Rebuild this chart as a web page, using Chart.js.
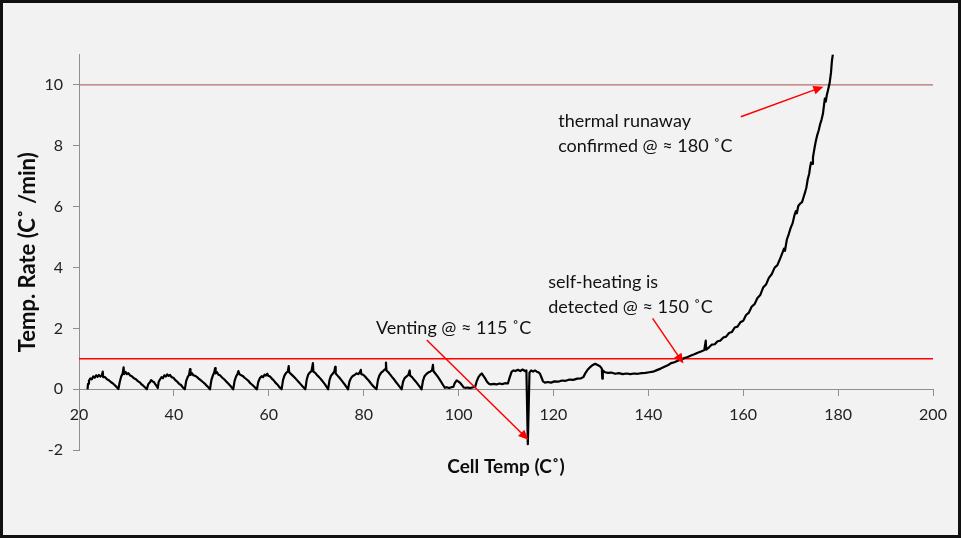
<!DOCTYPE html>
<html>
<head>
<meta charset="utf-8">
<script src="https://cdn.jsdelivr.net/npm/chart.js@4.4.0/dist/chart.umd.min.js"></script>
<style>
  html, body { margin: 0; padding: 0; background: #f2f2f2; }
  #frame { width: 961px; height: 538px; box-sizing: border-box; border: 3px solid #111; background: #f2f2f2; }
  canvas { display: block; }
</style>
</head>
<body>
<div id="frame"><canvas id="chart1" width="955" height="532"></canvas></div>
<script>
// cell temperature (C) and temperature rate (C/min)
// charge/discharge cycling part
var cyclingTemp = [
    21.8, 21.9, 22.1, 22.4, 22.7, 23.0, 23.3, 23.6, 23.9, 24.2, 24.5, 24.8, 25.0, 25.1, 25.5, 25.9, 26.3, 26.7, 27.1, 27.5, 27.9, 28.3,
    28.6, 28.9, 29.2, 29.4, 29.5, 29.8, 30.1, 30.4, 30.8, 31.2, 31.6, 32.0, 32.4, 32.8, 33.2, 33.6, 34.0, 34.3,
    34.6, 34.9, 35.2, 35.5, 35.8, 36.1, 36.4, 36.6,
    36.8, 37.1, 37.4, 37.7, 38.0, 38.3, 38.6, 38.9, 39.2, 39.5, 39.9, 40.3, 40.7, 41.1, 41.5, 41.9, 42.3,
    42.6, 42.9, 43.2, 43.4, 43.5, 43.8, 44.1, 44.5, 44.9, 45.3, 45.7, 46.1, 46.5, 46.9, 47.3, 47.6,
    47.9, 48.2, 48.5, 48.7, 48.8, 49.1, 49.4, 49.8, 50.2, 50.6, 51.0, 51.4, 51.8, 52.2, 52.5,
    52.8, 53.1, 53.4, 53.6, 53.8, 54.1, 54.5, 54.9, 55.3, 55.7, 56.1, 56.5, 56.9, 57.2, 57.5,
    57.8, 58.1, 58.5, 58.8, 59.1, 59.4, 59.7, 59.9, 60.2, 60.6, 61.0, 61.4, 61.8, 62.2, 62.7,
    63.0, 63.3, 63.7, 64.0, 64.2, 64.3, 64.7, 65.1, 65.5, 65.9, 66.3, 66.7, 67.1, 67.4, 67.7,
    68.0, 68.3, 68.7, 69.0, 69.3, 69.4, 69.8, 70.2, 70.6, 71.0, 71.4, 71.8, 72.2, 72.5,
    72.8, 73.1, 73.5, 73.8, 74.0, 74.1, 74.5, 74.9, 75.3, 75.7, 76.1, 76.4, 76.7,
    77.0, 77.3, 77.7, 78.1, 78.5, 78.9, 79.2, 79.4, 79.5, 79.9, 80.3, 80.7, 81.1, 81.5, 81.9, 82.3, 82.7,
    83.0, 83.3, 83.7, 84.1, 84.5, 84.7, 84.8, 85.2, 85.6, 86.0, 86.4, 86.8, 87.2, 87.6, 88.0,
    88.3, 88.6, 89.0, 89.4, 89.7, 89.8, 90.2, 90.6, 91.0, 91.4, 91.8, 92.2,
    92.5, 92.8, 93.2, 93.6, 94.0, 94.4, 94.6, 94.7, 95.1, 95.5, 95.9, 96.3, 96.7, 97.1,
    97.5, 98.0, 98.5, 98.9, 99.2, 99.6, 100.0, 100.4, 100.8, 101.1, 101.4, 101.9, 102.4, 102.9, 103.5,
    103.8, 104.2, 104.6, 104.9, 105.2, 105.6, 106.0, 106.4, 106.8, 107.4, 108.0, 108.6, 109.2, 109.8, 110.4
];
var cyclingRate = [
    0.00, 0.18, 0.28, 0.36, 0.33, 0.42, 0.38, 0.46, 0.41, 0.47, 0.42, 0.45, 0.58, 0.40, 0.40, 0.33, 0.30, 0.24, 0.20, 0.14, 0.08, 0.01,
    0.25, 0.42, 0.52, 0.72, 0.50, 0.57, 0.50, 0.53, 0.45, 0.42, 0.36, 0.33, 0.27, 0.23, 0.16, 0.11, 0.05, 0.00,
    0.17, 0.22, 0.30, 0.26, 0.24, 0.16, 0.10, 0.04,
    0.25, 0.33, 0.40, 0.37, 0.46, 0.42, 0.49, 0.44, 0.47, 0.40, 0.38, 0.30, 0.25, 0.18, 0.14, 0.06, 0.00,
    0.28, 0.40, 0.48, 0.66, 0.47, 0.53, 0.46, 0.44, 0.40, 0.34, 0.29, 0.24, 0.19, 0.12, 0.06, 0.00,
    0.30, 0.45, 0.55, 0.70, 0.52, 0.56, 0.48, 0.45, 0.38, 0.33, 0.26, 0.20, 0.13, 0.06, 0.00,
    0.28, 0.42, 0.50, 0.60, 0.50, 0.47, 0.44, 0.38, 0.33, 0.28, 0.20, 0.15, 0.09, 0.04, 0.00,
    0.25, 0.36, 0.43, 0.40, 0.48, 0.45, 0.51, 0.44, 0.43, 0.36, 0.30, 0.22, 0.16, 0.08, 0.00,
    0.30, 0.45, 0.55, 0.58, 0.76, 0.56, 0.50, 0.44, 0.38, 0.31, 0.24, 0.17, 0.10, 0.05, 0.00,
    0.32, 0.48, 0.56, 0.60, 0.86, 0.58, 0.54, 0.46, 0.40, 0.33, 0.25, 0.17, 0.08, 0.00,
    0.30, 0.44, 0.52, 0.58, 0.74, 0.52, 0.45, 0.38, 0.30, 0.22, 0.14, 0.07, 0.00,
    0.25, 0.36, 0.44, 0.47, 0.52, 0.50, 0.56, 0.64, 0.50, 0.48, 0.42, 0.35, 0.28, 0.20, 0.12, 0.06, 0.00,
    0.30, 0.45, 0.55, 0.60, 0.66, 0.88, 0.62, 0.56, 0.48, 0.40, 0.33, 0.24, 0.16, 0.08, 0.00,
    0.25, 0.36, 0.42, 0.47, 0.62, 0.45, 0.40, 0.32, 0.25, 0.17, 0.09, 0.00,
    0.28, 0.42, 0.50, 0.55, 0.58, 0.62, 0.80, 0.60, 0.52, 0.44, 0.35, 0.25, 0.15, 0.05,
    0.07, 0.04, 0.07, 0.08, 0.20, 0.29, 0.25, 0.20, 0.12, 0.06, 0.05, 0.06, 0.04, 0.06, 0.08,
    0.25, 0.40, 0.48, 0.52, 0.45, 0.36, 0.25, 0.18, 0.16, 0.18, 0.16, 0.19, 0.17, 0.20, 0.19
];

// venting region
var ventTemp = [
    110.8, 111.2, 111.6, 112.0, 112.5, 113.0, 113.5, 114.0, 114.3, 114.6, 114.95, 115.3, 115.7, 116.1, 116.5, 116.9,
    117.2, 117.5, 117.8, 118.2, 118.8, 119.5, 120.2, 121.0, 121.8, 122.6, 123.4, 124.2, 125.0, 125.8, 126.3,
    126.8, 127.3, 127.8, 128.3, 128.8, 129.3, 129.8, 130.2, 130.3, 130.4, 130.9
];
var ventRate = [
    0.40, 0.58, 0.62, 0.60, 0.64, 0.60, 0.65, 0.60, 0.62, -1.80, 0.55, 0.62, 0.58, 0.62, 0.58, 0.55,
    0.50, 0.38, 0.26, 0.22, 0.24, 0.22, 0.26, 0.25, 0.29, 0.28, 0.32, 0.31, 0.35, 0.36, 0.40,
    0.55, 0.66, 0.74, 0.80, 0.84, 0.80, 0.76, 0.68, 0.35, 0.62, 0.56
];

// self-heating and runaway
var runawayTemp = [
    131.5, 132.2, 133.0, 133.8, 134.6, 135.4, 136.2, 137.0, 137.8, 138.6, 139.4, 140.2, 141.0, 141.8, 142.6,
    143.4, 144.2, 144.8, 145.5, 146.2, 146.9, 147.6, 148.3, 149.0, 149.7, 150.4, 151.1, 151.8, 152.1, 152.2,
    152.8, 153.4, 154.0, 154.6, 155.2, 155.8, 156.4, 157.0, 157.6, 158.2, 158.8, 159.4, 160.0, 160.6, 161.2,
    161.8, 162.4, 163.0, 163.6, 164.2, 164.8, 165.4, 166.0, 166.6, 167.2, 167.8,
    168.3, 168.6, 168.8, 169.2, 169.6, 170.0, 170.4, 170.8, 171.1, 171.3, 171.6, 172.0, 172.4, 172.7, 173.0,
    173.3, 173.6, 173.9, 174.1, 174.3, 174.5, 174.7, 175.0, 175.3, 175.6, 175.9, 176.2, 176.5, 176.8, 177.0,
    177.2, 177.4, 177.6, 177.9, 178.2, 178.5, 178.7, 178.9
];
var runawayRate = [
    0.54, 0.55, 0.51, 0.53, 0.50, 0.52, 0.50, 0.52, 0.51, 0.53, 0.54, 0.56, 0.58, 0.63, 0.68,
    0.74, 0.80, 0.86, 0.89, 0.94, 0.97, 1.03, 1.06, 1.11, 1.15, 1.20, 1.24, 1.29, 1.60, 1.30,
    1.38, 1.47, 1.48, 1.58, 1.60, 1.70, 1.73, 1.85, 1.88, 2.03, 2.06, 2.20, 2.25, 2.44, 2.52,
    2.72, 2.80, 3.00, 3.10, 3.34, 3.44, 3.66, 3.78, 3.99, 4.08, 4.30,
    4.50, 4.62, 4.55, 4.92, 5.10, 5.30, 5.45, 5.72, 5.85, 5.78, 6.02, 6.10, 6.15, 6.30, 6.45,
    6.62, 6.90, 7.08, 7.30, 7.45, 7.40, 7.62, 7.90, 8.15, 8.35, 8.50, 8.70, 8.85, 9.05, 9.30,
    9.55, 9.45, 9.65, 9.85, 10.05, 10.40, 10.80, 11.00
];

// threshold lines
var thresholdLevels = [10, 1];
var thresholdColors = ["#b86d6d", "#ff0000"];

var xTicks = [20, 40, 60, 80, 100, 120, 140, 160, 180, 200];
var yTicks = [-2, 0, 2, 4, 6, 8, 10];

var cellTemp = cyclingTemp.concat(ventTemp, runawayTemp);
var tempRate = cyclingRate.concat(ventRate, runawayRate);
if (cellTemp.length !== tempRate.length) {
    throw new Error("length mismatch " + cellTemp.length + " / " + tempRate.length);
}

// notes: text lines with left x and line y in data units
var notes = [
    {lines: ["thermal runaway", "confirmed @ \u2248 180 \u02daC"], x: 121.0, y: [8.79, 7.97]},
    {lines: ["self-heating is", "detected @ \u2248 150 \u02daC"], x: 118.9, y: [3.53, 2.71]},
    {lines: ["Venting @ \u2248 115 \u02daC"], x: 82.6, y: [2.0]}
];
var arrows = [
    {from: [159.5, 8.95], to: [176.9, 9.94]},
    {from: [140.9, 2.33], to: [147.4, 0.85]},
    {from: [93.3, 1.62], to: [114.7, -1.66]}
];

var FONT = "Lato, 'Liberation Sans', sans-serif";

function drawArrow(ctx, x1, y1, x2, y2) {
    var ang = Math.atan2(y2 - y1, x2 - x1);
    var len = 10, half = 4.5;
    ctx.beginPath();
    ctx.moveTo(x1, y1);
    ctx.lineTo(x2 - Math.cos(ang) * len * 0.8, y2 - Math.sin(ang) * len * 0.8);
    ctx.stroke();
    ctx.beginPath();
    ctx.moveTo(x2, y2);
    ctx.lineTo(x2 - Math.cos(ang) * len + Math.sin(ang) * half, y2 - Math.sin(ang) * len - Math.cos(ang) * half);
    ctx.lineTo(x2 - Math.cos(ang) * len - Math.sin(ang) * half, y2 - Math.sin(ang) * len + Math.cos(ang) * half);
    ctx.closePath();
    ctx.fill();
}

var notesPlugin = {
    id: "notes",
    afterDatasetsDraw: function (chart) {
        var ctx = chart.ctx, xs = chart.scales.x, ys = chart.scales.y;
        ctx.save();
        ctx.font = "18px " + FONT;
        ctx.fillStyle = "#111";
        ctx.textBaseline = "middle";
        ctx.textAlign = "left";
        notes.forEach(function (n) {
            n.lines.forEach(function (line, i) {
                ctx.fillText(line, xs.getPixelForValue(n.x), ys.getPixelForValue(n.y[i]));
            });
        });
        ctx.strokeStyle = "#ff0000";
        ctx.fillStyle = "#ff0000";
        ctx.lineWidth = 1.5;
        arrows.forEach(function (a) {
            drawArrow(ctx, xs.getPixelForValue(a.from[0]), ys.getPixelForValue(a.from[1]),
                xs.getPixelForValue(a.to[0]), ys.getPixelForValue(a.to[1]));
        });
        ctx.restore();
    }
};

var datasets = [{
    label: "Temp. Rate",
    data: cellTemp.map(function (t, i) { return {x: t, y: tempRate[i]}; }),
    borderColor: "#000",
    borderWidth: 2.2,
    borderJoinStyle: "round",
    pointRadius: 0,
    fill: false,
    tension: 0
}];
thresholdLevels.forEach(function (lvl, i) {
    datasets.push({
        label: "level " + lvl,
        data: [{x: xTicks[0], y: lvl}, {x: xTicks[xTicks.length - 1], y: lvl}],
        borderColor: thresholdColors[i],
        borderWidth: i === 0 ? 1.2 : 1.5,
        pointRadius: 0,
        fill: false
    });
});

var axisColor = "#8f8f8f";

new Chart(document.getElementById("chart1"), {
    type: "line",
    data: {datasets: datasets},
    options: {
        responsive: false,
        animation: false,
        layout: {padding: {left: 0, top: 51.4, right: 25, bottom: 84.8}},
        plugins: {legend: {display: false}, tooltip: {enabled: false}},
        scales: {
            x: {
                type: "linear",
                position: {y: 0},
                min: 20,
                max: 200,
                afterBuildTicks: function (s) { s.ticks = xTicks.map(function (v) { return {value: v}; }); },
                ticks: {color: "#222", font: {family: FONT, size: 16}, padding: 10, maxRotation: 0},
                grid: {display: true, drawOnChartArea: false, drawTicks: true, tickLength: 6, color: axisColor},
                border: {display: true, color: axisColor, width: 1},
                title: {display: true, text: "Cell Temp (C\u02da)", color: "#0d0d0d",
                    font: {family: FONT, size: 19, weight: "bold"}, padding: {top: 21, bottom: 0}}
            },
            y: {
                type: "linear",
                min: -2,
                max: 11,
                afterBuildTicks: function (s) { s.ticks = yTicks.map(function (v) { return {value: v}; }); },
                afterFit: function (s) { s.width = 76; },
                ticks: {color: "#222", font: {family: FONT, size: 16}, padding: 10},
                grid: {display: true, drawOnChartArea: false, drawTicks: true, tickLength: 6, color: axisColor},
                border: {display: true, color: axisColor, width: 1},
                title: {display: true, text: "Temp. Rate (C\u02da /min)", color: "#0d0d0d",
                    font: {family: FONT, size: 22, weight: "bold"}, padding: {top: 12, bottom: 0}}
            }
        }
    },
    plugins: [notesPlugin]
});
</script>
</body>
</html>
